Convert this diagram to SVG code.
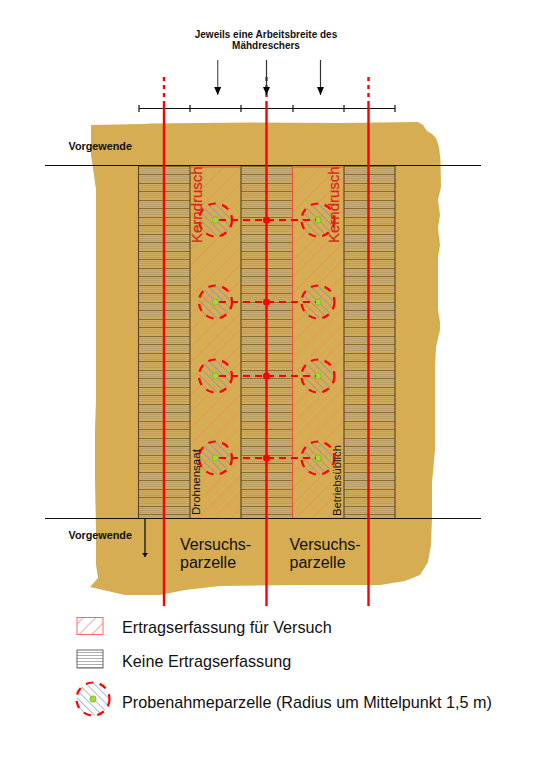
<svg xmlns="http://www.w3.org/2000/svg" width="538" height="761" viewBox="0 0 538 761">
<style>
text{font-family:"Liberation Sans",Arial,sans-serif;fill:#111}
.b{font-weight:bold;font-size:10px}
.g{font-weight:bold;font-size:10.800px}
.l{font-size:16.200px}
.v{font-size:16px}
.r{stroke:#f00;stroke-width:2.4;fill:none}
.k{stroke:#111;stroke-width:1.2;fill:none}
.kd{font-size:15px;stroke:#d62a20;stroke-width:0.250}
</style>
<defs>
<pattern id="h" width="10" height="17" patternUnits="userSpaceOnUse" patternTransform="translate(0,166)"><rect width="10" height="17" fill="#cfab60"/><path d="M0 .5H10M0 8.500H10" stroke="#8a6c2e" stroke-width="1"/><path d="M0 2.500H10M0 4.500H10M0 6.500H10M0 10.500H10M0 12.500H10M0 14.500H10" stroke="#b89f6c" stroke-width="1"/></pattern>
<pattern id="lg" width="10" height="3" patternUnits="userSpaceOnUse"><line x1="0" y1="1.500" x2="10" y2="1.500" stroke="#999" stroke-width="0.800"/></pattern>
<pattern id="d" width="11.500" height="11.500" patternUnits="userSpaceOnUse" patternTransform="rotate(45)"><line x1="0" y1="0" x2="0" y2="11.500" stroke="#ee8a60" stroke-width="1.100"/></pattern>
<pattern id="dl" width="9" height="9" patternUnits="userSpaceOnUse" patternTransform="rotate(45)"><line x1="0" y1="0" x2="0" y2="9" stroke="#f66" stroke-width="1.200"/></pattern>
<pattern id="c" width="5.500" height="5.500" patternUnits="userSpaceOnUse" patternTransform="rotate(-45)"><line x1="0" y1="0" x2="0" y2="5.500" stroke="#7090bc" stroke-width="1.200"/></pattern>
<marker id="a" markerWidth="8" markerHeight="9" refX="3.500" refY="8" orient="0" markerUnits="userSpaceOnUse"><path d="M0 0L7 0L3.500 8Z" fill="#000"/></marker>
<marker id="a2" markerWidth="7" markerHeight="6" refX="3" refY="4" orient="0" markerUnits="userSpaceOnUse"><path d="M0 0L6 0L3 4Z" fill="#111"/></marker>
<g id="pl"><circle r="16.500" fill="url(#c)" stroke="none"/><circle r="16.500" fill="none" stroke="#f00" stroke-width="2.200" stroke-dasharray="7.500 6.500"/><circle r="3.200" fill="#a8d53a" stroke="#7aa520" stroke-width="0.600"/></g>
</defs>
<g id="field"><path d="M91 125L143 124L150 123.500L250 122.500L340 123L418 122L423 125L427 131L432 134L436 138L439 147L440.500 160L441 187L438 200L440 215L438 228L440 245L438 258L438 310L440 322L440 330L436 347L435 367L435 450L432 483L432 517L431 545L428 562L420 575L405 581L380 585L300 585L220 586L185 590L160 595L125 595L90 587L98 578L96 565L96 530L95 480L95 430L96 400L96 190L94 175L91 155Z" fill="#d6ad52"/></g>
<g id="strips">
<rect x="138.500" y="166" width="51.500" height="352" fill="url(#h)"/>
<rect x="241" y="166" width="51.500" height="352" fill="url(#h)"/>
<rect x="344" y="166" width="51" height="352" fill="url(#h)"/>
<rect x="190" y="166" width="51" height="352" fill="url(#d)"/>
<rect x="292.500" y="166" width="51.500" height="352" fill="url(#d)"/>
<path d="M138.500 166V518M190 166V518M241 166V518M344 166V518M395 166V518" stroke="#5a4526" stroke-width="1.100" fill="none"/>
<path d="M190 167H241M292.500 167H344" stroke="#e8503a" stroke-width="1"/>
<path d="M292.500 167V518" stroke="#e8503a" stroke-width="1"/>
</g>
<g id="horizontals"><path d="M45 165.500H481" class="k"/><path d="M45 518.500H481" class="k"/><path d="M139 108.500H395M139 105V112M190 105V112M241 105V112M293 105V112M344 105V112M395 105V112" class="k"/></g>
<g id="plots">
<use href="#pl" x="215.500" y="220"/><use href="#pl" x="318" y="220"/>
<use href="#pl" x="215.500" y="302"/><use href="#pl" x="318" y="302"/>
<use href="#pl" x="215.500" y="376"/><use href="#pl" x="318" y="376"/>
<use href="#pl" x="215.500" y="458"/><use href="#pl" x="318" y="458"/>
</g>
<g id="connectors">
<path d="M164 77V102M266.500 77V102M368.500 77V102" class="r" stroke-dasharray="4 4"/>
<path d="M164 102V606M266.500 102V606M368.500 102V606" class="r"/>
<path d="M219 220H316M219 302H316M219 376H316M219 458H316" stroke="#f00" stroke-width="2" stroke-dasharray="7 5" fill="none"/>
<circle cx="266.500" cy="220" r="3.500" fill="#f00"/><circle cx="266.500" cy="302" r="3.500" fill="#f00"/><circle cx="266.500" cy="376" r="3.500" fill="#f00"/><circle cx="266.500" cy="458" r="3.500" fill="#f00"/>
<path d="M217.700 60V95" stroke="#555" stroke-width="1.200" fill="none" marker-end="url(#a)"/>
<path d="M266.500 60V95" stroke="#333" stroke-width="1.200" fill="none" marker-end="url(#a)"/>
<path d="M320.500 60V95" stroke="#333" stroke-width="1.200" fill="none" marker-end="url(#a)"/>
<path d="M145 519V557" stroke="#222" stroke-width="1.400" fill="none" marker-end="url(#a2)"/>
</g>
<g id="labels">
<text class="b" x="266" y="38" text-anchor="middle">Jeweils eine Arbeitsbreite des</text>
<text class="b" x="266" y="49" text-anchor="middle">Mähdreschers</text>
<text class="g" x="68.500" y="150">Vorgewende</text>
<text class="g" x="68.500" y="539">Vorgewende</text>
<text transform="translate(202,243) rotate(-90)" class="kd" style="fill:#d62a20">Kerndrusch</text>
<text transform="translate(339,243) rotate(-90)" class="kd" style="fill:#d62a20">Kerndrusch</text>
<text transform="translate(200,515) rotate(-90)" font-size="11.500">Drohnensaat</text>
<text transform="translate(341,516) rotate(-90)" font-size="11.300">Betriebsüblich</text>
<text class="v" x="180" y="550">Versuchs-</text><text class="v" x="180" y="568">parzelle</text>
<text class="v" x="289.500" y="550">Versuchs-</text><text class="v" x="289.500" y="568">parzelle</text>
</g>
<g id="legend">
<rect x="77" y="617.500" width="26" height="17" fill="url(#dl)" stroke="#f66" stroke-width="1"/>
<rect x="77" y="650" width="26" height="18" fill="url(#lg)" stroke="#666" stroke-width="1"/>
<use href="#pl" x="93" y="699"/>
<text class="l" x="122" y="633">Ertragserfassung für Versuch</text>
<text class="l" x="122" y="667">Keine Ertragserfassung</text>
<text class="l" x="122" y="708">Probenahmeparzelle (Radius um Mittelpunkt 1,5 m)</text>
</g>
</svg>
